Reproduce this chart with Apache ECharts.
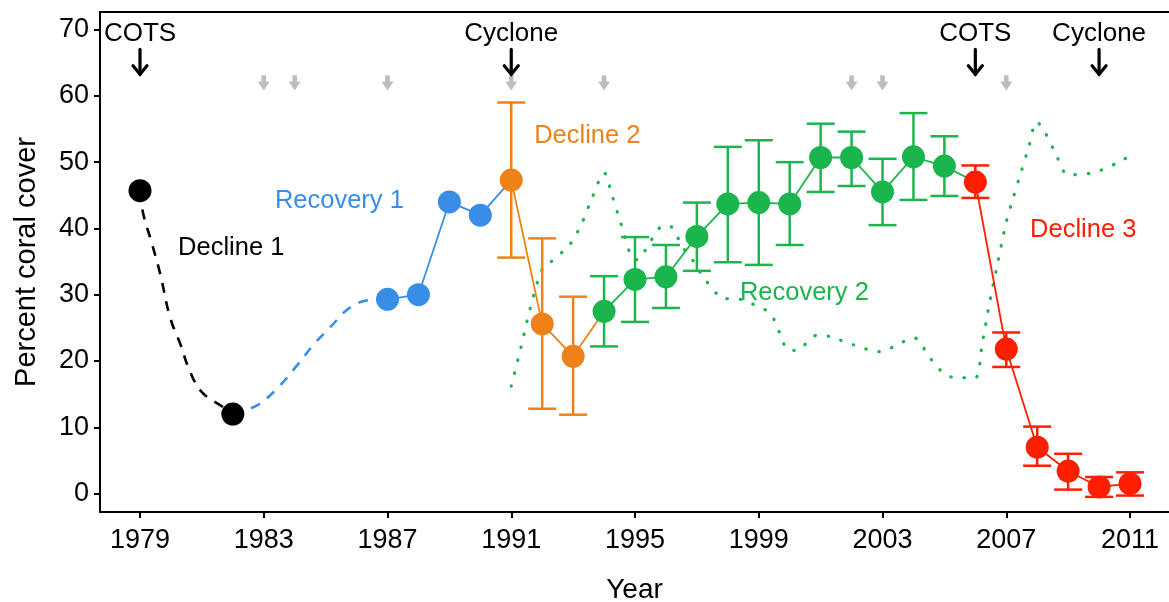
<!DOCTYPE html>
<html>
<head>
<meta charset="utf-8">
<script src="https://cdn.jsdelivr.net/npm/echarts@6/dist/echarts.min.js"></script>
<style>
  html, body { margin: 0; padding: 0; background: #fff; }
  #chart { width: 1169px; height: 602px; }
</style>
</head>
<body>
<div id="chart"></div>
<script>
// ---- data ----
var xTicks = [1979, 1983, 1987, 1991, 1995, 1999, 2003, 2007, 2011]
var yTicks = [0, 10, 20, 30, 40, 50, 60, 70]

var decline1Years = [1979, 1982]
var decline1Cover = [45.7, 12.0]

var recovery1Years = [1987, 1988, 1989, 1990]
var recovery1Cover = [29.3, 30.0, 44.0, 42.0]

var decline2Years = [1991, 1992, 1993]
var decline2Cover = [47.3, 25.6, 20.7]
var decline2Low = [35.6, 12.8, 11.9]
var decline2High = [59.0, 38.5, 29.7]

var recovery2Years = [1994, 1995, 1996, 1997, 1998, 1999, 2000, 2001, 2002, 2003, 2004, 2005]
var recovery2Cover = [27.5, 32.3, 32.7, 38.8, 43.7, 43.9, 43.7, 50.7, 50.7, 45.5, 50.8, 49.4]
var recovery2Low = [22.2, 25.9, 28.0, 33.6, 34.9, 34.5, 37.5, 45.5, 46.4, 40.5, 44.3, 44.9]
var recovery2High = [32.8, 38.7, 37.5, 43.9, 52.3, 53.3, 50.0, 55.8, 54.6, 50.5, 57.4, 53.9]

var decline3Years = [2006, 2007, 2008, 2009, 2010, 2011]
var decline3Cover = [47.0, 21.8, 7.0, 3.4, 1.0, 1.5]
var decline3Low = [44.6, 19.1, 4.2, 0.6, -0.5, -0.3]
var decline3High = [49.5, 24.3, 10.1, 6.0, 2.5, 3.2]

// dashed (unsurveyed) trend curves
var decline1CurveYears = [1979, 1979.1, 1979.38, 1979.65, 1979.97, 1980.3, 1980.6, 1981.0, 1981.7, 1982]
var decline1CurveCover = [45.7, 42.3, 37.8, 33.2, 26.6, 22.6, 18.6, 15.3, 13.0, 12.0]
var recovery1CurveYears = [1982, 1982.78, 1983.42, 1984.07, 1984.6, 1985.15, 1985.8, 1986.45, 1987]
var recovery1CurveCover = [12.0, 13.3, 15.8, 19.3, 22.4, 25.1, 28.1, 29.2, 29.3]

// dotted green curve
var dottedYears = [1991.0, 1991.31, 1991.6, 1991.98, 1992.27, 1992.9, 1993.31, 1993.63, 1994.0,
    1994.27, 1994.54, 1994.94, 1995.1, 1995.37, 1995.86, 1996.1, 1996.54, 1996.9, 1997.28, 1997.91,
    1998.26, 1998.8, 1999.38, 1999.74, 1999.92, 2000.19, 2000.9, 2001.28, 2002.08, 2002.89,
    2003.67, 2004.02, 2004.56, 2005.12, 2005.56, 2005.99, 2006.24, 2006.47, 2006.73, 2006.99,
    2007.23, 2007.47, 2007.73, 2007.98, 2008.18, 2008.57, 2009.0, 2009.81, 2010.6, 2010.97]
var dottedCover = [16.2, 22.0, 27.7, 33.6, 34.9, 37.6, 41.1, 44.8, 48.4,
    44.8, 40.8, 35.4, 35.3, 37.0, 40.3, 40.4, 37.2, 35.0, 32.2, 29.4,
    29.4, 28.6, 27.1, 23.5, 21.7, 21.6, 23.9, 23.7, 22.4, 21.4,
    22.9, 23.5, 20.3, 17.7, 17.5, 17.4, 23.1, 29.0, 34.9, 40.8,
    44.7, 48.4, 52.3, 56.1, 55.1, 51.6, 48.1, 48.4, 49.9, 50.9]

// disturbance events
var eventYears = [1979, 1991, 2006, 2010]
var eventNames = ['COTS', 'Cyclone', 'COTS', 'Cyclone']
var minorEventYears = [1983, 1984, 1987, 1991, 1994, 2002, 2003, 2007]

// phase annotation text
var phaseNames = ['Decline 1', 'Recovery 1', 'Decline 2', 'Recovery 2', 'Decline 3']

// ---- styling ----
var BLACK = '#000000'
var BLUE = '#388ee6'
var ORANGE = '#ee8219'
var GREEN = '#1bb54d'
var RED = '#ff1e00'
var GREY = '#bdbdbd'
var FONT = 'Liberation Sans'
var phaseColors = [BLACK, BLUE, ORANGE, GREEN, RED]
var phaseAnchors = [[1980.23, 37.0], [1983.36, 44.2], [1991.74, 53.9], [1998.39, 30.3], [2007.77, 39.7]]

function zip(xs, ys) {
    return xs.map(function (x, i) { return [x, ys[i]] })
}
function zip3(xs, lo, hi) {
    return xs.map(function (x, i) { return [x, lo[i], hi[i]] })
}

function errorBars(color) {
    return function (params, api) {
        var x = api.value(0)
        var lo = api.coord([x, api.value(1)])
        var hi = api.coord([x, api.value(2)])
        var half = 14
        var style = { stroke: color, lineWidth: 2.5, fill: null }
        return {
            type: 'group',
            children: [
                { type: 'line', shape: { x1: hi[0], y1: hi[1], x2: lo[0], y2: lo[1] }, style: style },
                { type: 'line', shape: { x1: hi[0] - half, y1: hi[1], x2: hi[0] + half, y2: hi[1] }, style: style },
                { type: 'line', shape: { x1: lo[0] - half, y1: lo[1], x2: lo[0] + half, y2: lo[1] }, style: style }
            ]
        }
    }
}

function markers(name, xs, ys, color) {
    return {
        name: name, type: 'scatter', data: zip(xs, ys),
        symbolSize: 23, itemStyle: { color: color, opacity: 1 }, z: 5
    }
}
function joinLine(name, xs, ys, nextX, nextY, color) {
    return {
        name: name, type: 'line', data: zip(xs.concat([nextX]), ys.concat([nextY])),
        showSymbol: false, lineStyle: { color: color, width: 1.8 }, z: 3
    }
}

var chart = echarts.init(document.getElementById('chart'))

var option = {
    animation: false,
    backgroundColor: '#fff',
    textStyle: { fontFamily: FONT },
    grid: { left: 100, right: 0, top: 12, bottom: 90, outerBoundsMode: 'none', containLabel: false },
    xAxis: [{
        type: 'value', min: 1977.707, max: 2012.26,
        name: 'Year', nameLocation: 'middle', nameGap: 64,
        nameTextStyle: { fontSize: 28, color: BLACK, fontFamily: FONT },
        splitLine: { show: false },
        axisLine: { show: true, onZero: false, lineStyle: { color: BLACK, width: 2 } },
        axisTick: { show: true, length: 6, customValues: xTicks, lineStyle: { color: BLACK, width: 2 } },
        axisLabel: {
            customValues: xTicks, margin: 15, fontSize: 27, color: BLACK, fontFamily: FONT,
            formatter: function (v) { return String(v) }
        }
    }, {
        type: 'value', min: 1977.707, max: 2012.26, position: 'top',
        splitLine: { show: false }, axisTick: { show: false }, axisLabel: { show: false },
        axisLine: { show: true, onZero: false, lineStyle: { color: BLACK, width: 2 } }
    }],
    yAxis: {
        type: 'value', min: -2.78, max: 72.65,
        name: 'Percent coral cover', nameLocation: 'middle', nameGap: 59,
        nameTextStyle: { fontSize: 29, color: BLACK, fontFamily: FONT },
        splitLine: { show: false },
        axisLine: { show: true, onZero: false, lineStyle: { color: BLACK, width: 2 } },
        axisTick: { show: true, length: 6, customValues: yTicks, lineStyle: { color: BLACK, width: 2 } },
        axisLabel: {
            customValues: yTicks, margin: 11, fontSize: 27, color: BLACK, fontFamily: FONT,
            formatter: function (v) { return String(v) }
        }
    },
    series: [
        // dotted green trend
        {
            name: 'trend', type: 'line', data: zip(dottedYears, dottedCover), smooth: 0.3,
            showSymbol: false, z: 1,
            lineStyle: { color: GREEN, width: 3.2, type: [0.5, 12.8], cap: 'round' }
        },
        // dashed curves
        {
            name: 'decline1 curve', type: 'line', data: zip(decline1CurveYears, decline1CurveCover), smooth: 0.4,
            showSymbol: false, z: 2, lineStyle: { color: BLACK, width: 2.6, type: [10, 9] }
        },
        {
            name: 'recovery1 curve', type: 'line', data: zip(recovery1CurveYears, recovery1CurveCover), smooth: 0.4,
            showSymbol: false, z: 2, lineStyle: { color: BLUE, width: 2.6, type: [10, 9] }
        },
        // solid connecting lines
        joinLine('recovery1 line', recovery1Years, recovery1Cover, decline2Years[0], decline2Cover[0], BLUE),
        joinLine('decline2 line', decline2Years, decline2Cover, recovery2Years[0], recovery2Cover[0], ORANGE),
        joinLine('recovery2 line', recovery2Years, recovery2Cover, decline3Years[0], decline3Cover[0], GREEN),
        joinLine('decline3 line', decline3Years.slice(0, -1), decline3Cover.slice(0, -1),
            decline3Years[decline3Years.length - 1], decline3Cover[decline3Cover.length - 1], RED),
        // error bars
        { name: 'decline2 err', type: 'custom', renderItem: errorBars(ORANGE), data: zip3(decline2Years, decline2Low, decline2High), z: 4 },
        { name: 'recovery2 err', type: 'custom', renderItem: errorBars(GREEN), data: zip3(recovery2Years, recovery2Low, recovery2High), z: 4 },
        { name: 'decline3 err', type: 'custom', renderItem: errorBars(RED), data: zip3(decline3Years, decline3Low, decline3High), z: 4 },
        // markers
        markers('Decline 1', decline1Years, decline1Cover, BLACK),
        markers('Recovery 1', recovery1Years, recovery1Cover, BLUE),
        markers('Decline 2', decline2Years, decline2Cover, ORANGE),
        markers('Recovery 2', recovery2Years, recovery2Cover, GREEN),
        markers('Decline 3', decline3Years, decline3Cover, RED),
        // minor (grey) events
        {
            name: 'minor events', type: 'custom', z: 6,
            data: minorEventYears.map(function (y) { return [y] }),
            renderItem: function (params, api) {
                var top = api.coord([api.value(0), 63.1])
                var tip = api.coord([api.value(0), 60.8])
                var x = top[0]
                return {
                    type: 'group',
                    children: [
                        { type: 'rect', shape: { x: x - 2.3, y: top[1], width: 4.6, height: tip[1] - top[1] - 7 }, style: { fill: GREY } },
                        { type: 'polygon', shape: { points: [[x - 6, tip[1] - 9], [x + 6, tip[1] - 9], [x, tip[1]]] }, style: { fill: GREY } }
                    ]
                }
            }
        },
        // major (black) events
        {
            name: 'events', type: 'custom', z: 7,
            data: eventYears.map(function (y, i) { return [y, i] }),
            renderItem: function (params, api) {
                var yr = api.value(0)
                var top = api.coord([yr, 67.0])
                var tip = api.coord([yr, 63.1])
                var txt = api.coord([yr, 69.4])
                var x = top[0]
                var st = { stroke: BLACK, lineWidth: 3.2, fill: null, lineCap: 'round', lineJoin: 'miter' }
                return {
                    type: 'group',
                    children: [
                        { type: 'line', shape: { x1: x, y1: top[1], x2: x, y2: tip[1] - 1 }, style: st },
                        { type: 'polyline', shape: { points: [[x - 7, tip[1] - 9.5], [x, tip[1] - 1], [x + 7, tip[1] - 9.5]] }, style: st },
                        {
                            type: 'text', x: x, y: txt[1],
                            style: {
                                text: eventNames[api.value(1)], fill: BLACK, font: '26px ' + FONT,
                                align: 'center', verticalAlign: 'middle'
                            }
                        }
                    ]
                }
            }
        },
        // phase annotations
        {
            name: 'phase labels', type: 'scatter', symbolSize: 0, z: 8, silent: true,
            itemStyle: { opacity: 1 },
            data: phaseNames.map(function (n, i) {
                return {
                    value: phaseAnchors[i], name: n,
                    label: { color: phaseColors[i] }
                }
            }),
            label: {
                show: true, position: 'right', distance: 0, fontSize: 25.5, fontFamily: FONT,
                opacity: 1,
                formatter: function (p) { return p.name }
            }
        }
    ]
}

chart.setOption(option)
</script>
</body>
</html>
